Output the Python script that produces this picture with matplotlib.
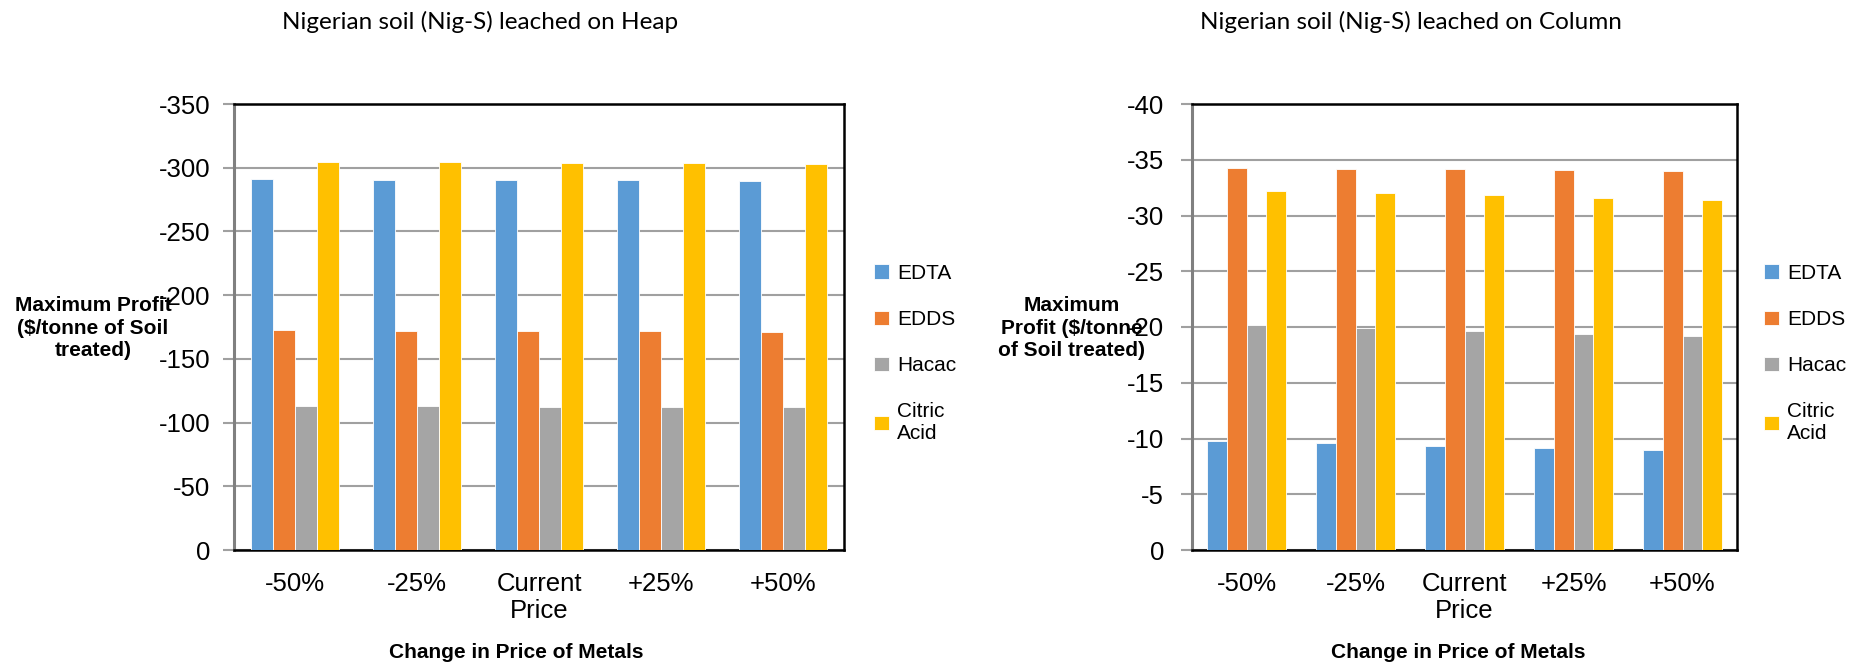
import numpy as np
import matplotlib
matplotlib.use("Agg")
import matplotlib.pyplot as plt

# Price scenarios for the metals recovered
categories = ["-50%", "-25%", "Current\nPrice", "+25%", "+50%"]
chelants = ["EDTA", "EDDS", "Hacac", "Citric\nAcid"]
colors = ["#5B9BD5", "#ED7D31", "#A5A5A5", "#FFC000"]

# Maximum profit, $/tonne of soil treated (heap leaching)
heap_edta = [-290.9, -290.6, -290.3, -290.0, -289.7]
heap_edds = [-172.3, -172.1, -171.8, -171.6, -171.3]
heap_hacac = [-113.0, -112.8, -112.6, -112.4, -112.2]
heap_citric = [-304.5, -304.2, -303.9, -303.6, -303.3]

# Maximum profit, $/tonne of soil treated (column leaching)
col_edta = [-9.77, -9.58, -9.35, -9.16, -8.96]
col_edds = [-34.28, -34.21, -34.14, -34.06, -34.00]
col_hacac = [-20.15, -19.93, -19.67, -19.41, -19.17]
col_citric = [-32.22, -32.02, -31.80, -31.60, -31.40]

plt.rcParams["font.family"] = ["Liberation Sans", "DejaVu Sans"]
plt.rcParams["axes.unicode_minus"] = False

W, H = 1859, 667
fig = plt.figure(figsize=(W / 100, H / 100), dpi=100)


def px_axes(x0, x1, y0, y1):
    return fig.add_axes([x0 / W, 1 - y1 / H, (x1 - x0) / W, (y1 - y0) / H])


def draw_panel(ax, series, ymin, step, title, title_x, ylabel, ylabel_x,
               xlabel_x, legend_x, ypad):
    x = np.arange(len(categories))
    width = 0.18
    for i, (vals, name, c) in enumerate(zip(series, chelants, colors)):
        ax.bar(x + (i - 1.5) * width, vals, width, color=c, label=name,
               edgecolor="white", linewidth=0.6, zorder=3)
    ax.set_xlim(-0.5, len(categories) - 0.5)
    ax.set_ylim(0, ymin)
    ax.set_yticks(np.arange(0, ymin - step / 2, -step))
    ax.set_xticks(x)
    ax.set_xticklabels(categories, fontsize=18.5, linespacing=1.15)
    ax.tick_params(axis="x", length=0, pad=16)
    ax.tick_params(axis="y", labelsize=18.5, length=8, width=1.5,
                   color="#A0A0A0", pad=ypad)
    ax.yaxis.grid(True, color="#A0A0A0", linewidth=1.5, zorder=0)
    ax.set_axisbelow(True)
    for s in ["top", "right", "bottom"]:
        ax.spines[s].set_color("black")
        ax.spines[s].set_linewidth(1.8)
    ax.spines["left"].set_color("#808080")
    ax.spines["left"].set_linewidth(2.2)

    fig.text(title_x / W, 1 - 22 / H, title, ha="center", va="center",
             fontsize=17.5, family=["Lato", "DejaVu Sans"])
    fig.text(ylabel_x / W, 1 - 328 / H, ylabel, ha="center", va="center",
             fontsize=15, fontweight="bold", linespacing=1.25)
    fig.text(xlabel_x / W, 1 - 652 / H, "Change in Price of Metals",
             ha="center", va="center", fontsize=15, fontweight="bold")
    ax.legend(loc="upper left", bbox_to_anchor=(legend_x / W, 1 - 264 / H),
              bbox_transform=fig.transFigure, frameon=False, fontsize=15,
              handlelength=0.7, handleheight=0.7, handletextpad=0.4,
              labelspacing=1.3, borderaxespad=0, borderpad=0)


ax1 = px_axes(234, 844, 104, 550)
draw_panel(ax1, [heap_edta, heap_edds, heap_hacac, heap_citric], -350, 50,
           "Nigerian soil (Nig-S) leached on Heap", 480,
           "Maximum Profit\n($/tonne of Soil\ntreated)", 93, 516, 874, 9)

ax2 = px_axes(1192, 1737, 104, 550)
draw_panel(ax2, [col_edta, col_edds, col_hacac, col_citric], -40, 5,
           "Nigerian soil (Nig-S) leached on Column", 1411,
           "Maximum\nProfit ($/tonne\nof Soil treated)", 1072, 1458, 1764, 12)

fig.savefig("out.png", dpi=100)
